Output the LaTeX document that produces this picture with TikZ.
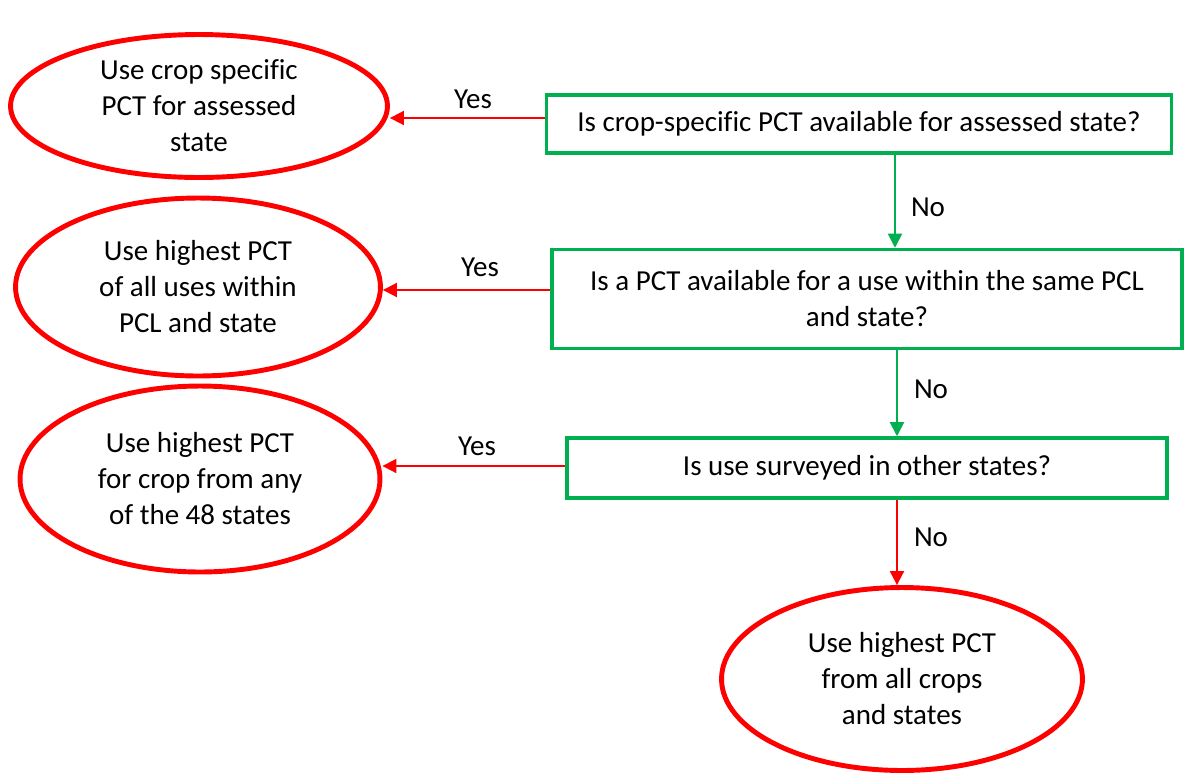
\documentclass[tikz,border=0pt]{standalone}
\usepackage{fontspec}
\setmainfont[Ligatures=NoCommon]{Carlito}
\usepackage{xcolor}
\usetikzlibrary{shapes.geometric,arrows.meta}
\definecolor{qgreen}{RGB}{0,176,80}

\begin{document}
\begin{tikzpicture}[x=0.02cm,y=-0.02cm,
  txt/.style={font=\fontsize{16.5}{20.5}\selectfont},
  choice/.style={txt,ellipse,draw=red,line width=2.8pt,align=center,inner sep=0pt},
  query/.style={txt,rectangle,draw=qgreen,line width=2pt,align=center,inner sep=0pt},
  yesarrow/.style={red,line width=1.1pt,-{Triangle[length=8pt,width=8pt]}},
  noarrow/.style={line width=1.1pt,-{Triangle[length=8pt,width=8pt]}}]
\useasboundingbox (0,0) rectangle (1184,782);
% outcomes
\node[choice,minimum width=7.54cm,minimum height=2.86cm] (e1) at (199,106) {Use crop specific\\PCT for assessed\\state};
\node[choice,minimum width=7.3cm,minimum height=3.56cm] (e2) at (198,287) {Use highest PCT\\of all uses within\\PCL and state};
\node[choice,minimum width=7.2cm,minimum height=3.72cm] (e3) at (200,479) {Use highest PCT\\for crop from any\\of the 48 states};
\node[choice,minimum width=7.22cm,minimum height=3.66cm] (e4) at (902,679) {Use highest PCT\\from all crops\\and states};
% questions
\node[query,minimum width=12.5cm,minimum height=1.16cm] (q1) at (859,124) {Is crop-specific PCT available for assessed state?};
\node[query,minimum width=12.6cm,minimum height=1.98cm] (q2) at (867,299) {Is a PCT available for a use within the same PCL\\and state?};
\node[query,minimum width=12cm,minimum height=1.2cm] (q3) at (867,468) {Is use surveyed in other states?};
% yes branches
\draw[yesarrow] ([yshift=0.12cm]q1.west) -- ([yshift=0.12cm]q1.west -| e1.east);
\draw[yesarrow] ([yshift=0.18cm]q2.west) -- ([yshift=0.18cm]q2.west -| e2.east);
\draw[yesarrow] ([yshift=0.04cm]q3.west) -- ([yshift=0.04cm]q3.west -| e3.east);
\node[txt] (y1) at (473,99) {Yes};
\node[txt] (y2) at (480,267) {Yes};
\node[txt] (y3) at (477,446) {Yes};
% no branches
\draw[noarrow,qgreen] ([xshift=0.72cm]q1.south) -- ([xshift=0.72cm]q1.south |- q2.north);
\draw[noarrow,qgreen] ([xshift=0.6cm]q2.south) -- ([xshift=0.6cm]q2.south |- q3.north);
\draw[noarrow,red] ([xshift=0.6cm]q3.south) -- ([xshift=0.6cm]q3.south |- e4.north);
\node[txt] (n1) at (928,207) {No};
\node[txt] (n2) at (931,389) {No};
\node[txt] (n3) at (931,537) {No};
\end{tikzpicture}
\end{document}
